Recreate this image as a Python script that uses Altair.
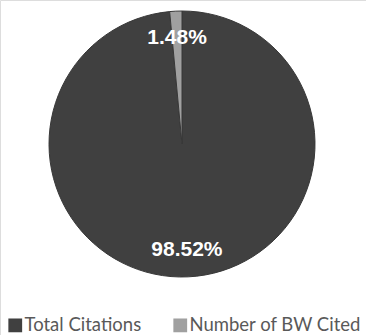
import altair as alt
import pandas as pd

categories = ["Total Citations", "Number of BW Cited"]
values = [98.52, 1.48]
labels = ["98.52%", "1.48%"]
colors = ["#404040", "#a0a0a0"]

df = pd.DataFrame({
    "category": categories,
    "value": values,
    "label": labels,
    "idx": list(range(len(categories))),
})

theta = alt.Theta("value:Q", stack=True)
order = alt.Order("idx:Q", sort="ascending")

arc = alt.Chart(df).mark_arc(outerRadius=133, stroke="#383838", strokeWidth=1).encode(
    theta=theta,
    order=order,
    x=alt.value(182),
    y=alt.value(144),
    color=alt.Color(
        "category:N",
        scale=alt.Scale(domain=categories, range=colors),
        legend=alt.Legend(
            title=None,
            orient="none",
            direction="horizontal",
            legendX=6,
            legendY=316,
            symbolType="square",
            symbolSize=190,
            symbolStrokeWidth=0,
            symbolOpacity=1,
            labelFontSize=18.5,
            labelFont="Lato",
            labelColor="#595959",
            labelOffset=0,
            columnPadding=29,
            labelLimit=300,
        ),
    ),
)

text = alt.Chart(df).mark_text(
    radius=106,
    font="Liberation Sans",
    fontWeight="bold",
    fontSize=21,
    color="white",
    align="center",
    baseline="middle",
).encode(
    theta=theta,
    order=order,
    detail="category:N",
    text="label:N",
    x=alt.value(182),
    y=alt.value(144),
)

chart = alt.layer(arc, text).properties(
    width=366,
    height=335,
    padding=0,
    autosize=alt.AutoSizeParams(type="none"),
).configure_view(stroke=None).configure(background="white")

chart.save("out.html", embed_options={"renderer": "svg", "actions": False})
